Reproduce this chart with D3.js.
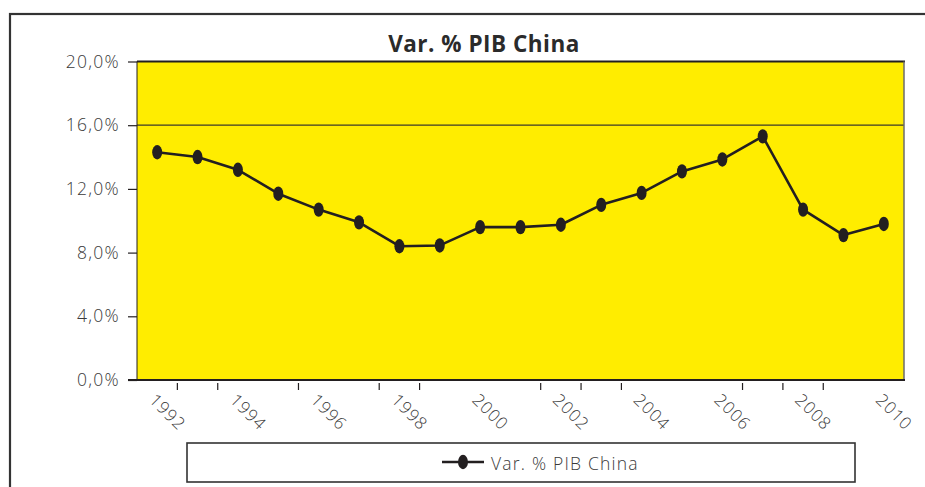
<!DOCTYPE html>
<html>
<head>
<meta charset="utf-8">
<script src="https://cdn.jsdelivr.net/npm/d3@7"></script>
<style>
  html, body { margin: 0; padding: 0; background: #fff; }
  svg { display: block; }
  text { font-family: "Open Sans", Lato, sans-serif; fill: #3a3a3a; }
</style>
</head>
<body>
<svg id="chart" width="925" height="487"></svg>
<script>
// Annual GDP growth of China, 1992-2010 (%)
const years = [1992, 1993, 1994, 1995, 1996, 1997, 1998, 1999, 2000, 2001,
               2002, 2003, 2004, 2005, 2006, 2007, 2008, 2009, 2010];
const gdpGrowth = [14.3, 14.0, 13.2, 11.7, 10.7, 9.9, 8.4, 8.45, 9.6, 9.6,
                   9.75, 11.0, 11.75, 13.1, 13.85, 15.3, 10.7, 9.1, 9.8];
const yTicks = [0, 4, 8, 12, 16, 20];
const gridValues = [16];
const xLabels = [1992, 1994, 1996, 1998, 2000, 2002, 2004, 2006, 2008, 2010];
// category boundaries that carry a tick mark (left edge of these years)
const tickEdgeYears = [1993, 1994, 1996, 1998, 1999, 2002, 2003, 2004, 2007, 2008, 2009];
const seriesName = "Var. % PIB China";

const svg = d3.select("#chart");
const ink = "#231f20";
const labelFont = "'Open Sans', Lato, sans-serif";

const plot = { left: 137, right: 904, top: 61.5, bottom: 380 };

const xBand = d3.scaleBand().domain(years).range([plot.left, plot.right]).paddingInner(0).paddingOuter(0);
const x = d => xBand(d) + xBand.bandwidth() / 2;
const y = d3.scaleLinear().domain([0, 20]).range([plot.bottom, plot.top]);

// outer frame
svg.append("rect")
  .attr("x", 10).attr("y", 14).attr("width", 1000).attr("height", 600)
  .attr("fill", "none").attr("stroke", "#333").attr("stroke-width", 2.2);

// title
svg.append("text")
  .attr("x", 484).attr("y", 51.5)
  .attr("text-anchor", "middle")
  .style("font-size", "22.5px").style("font-weight", 700).style("fill", "#2b2b2b")
  .style("letter-spacing", "0.5px")
  .text(seriesName);

// plot background
svg.append("rect")
  .attr("x", plot.left).attr("y", plot.top)
  .attr("width", plot.right - plot.left).attr("height", plot.bottom - plot.top)
  .attr("fill", "#ffed00");

// gridline(s)
svg.selectAll(".grid").data(gridValues).enter().append("line")
  .attr("x1", plot.left).attr("x2", plot.right)
  .attr("y1", d => y(d)).attr("y2", d => y(d))
  .attr("stroke", "#3a3a2a").attr("stroke-width", 1.2);

// plot borders
svg.append("line").attr("x1", plot.left).attr("x2", plot.right + 1)
  .attr("y1", plot.top).attr("y2", plot.top).attr("stroke", ink).attr("stroke-width", 2);
svg.append("line").attr("x1", plot.right).attr("x2", plot.right)
  .attr("y1", plot.top).attr("y2", plot.bottom).attr("stroke", "#6b6b6b").attr("stroke-width", 1.5);
svg.append("line").attr("x1", plot.left).attr("x2", plot.left)
  .attr("y1", plot.top).attr("y2", plot.bottom).attr("stroke", ink).attr("stroke-width", 1);
svg.append("line").attr("x1", plot.left - 9).attr("x2", plot.right + 1)
  .attr("y1", plot.bottom).attr("y2", plot.bottom).attr("stroke", ink).attr("stroke-width", 2);

// y axis
const yAxis = d3.axisLeft(y).tickValues(yTicks).tickSize(9).tickPadding(8)
  .tickFormat(d => d.toFixed(1).replace(".", ",") + "%");
const gy = svg.append("g").attr("transform", `translate(${plot.left},0)`).call(yAxis);
gy.select(".domain").remove();
gy.selectAll(".tick line").attr("stroke", ink).attr("stroke-width", 1.2);
gy.selectAll(".tick text")
  .style("font-size", "17.5px").style("font-weight", 300)
  .style("letter-spacing", "1.3px")
  .style("font-family", labelFont).attr("fill", "#3a3a3a");

// x tick marks on selected category boundaries
svg.selectAll(".xtick").data(tickEdgeYears).enter().append("line")
  .attr("x1", d => xBand(d)).attr("x2", d => xBand(d))
  .attr("y1", plot.bottom + 3).attr("y2", plot.bottom + 10)
  .attr("stroke", ink).attr("stroke-width", 1.2);

// x labels, rotated
svg.selectAll(".xlabel").data(xLabels).enter().append("text")
  .attr("transform", d => `translate(${x(d) - 9},${plot.bottom + 21}) rotate(45)`)
  .style("font-size", "17px").style("font-weight", 300)
  .style("letter-spacing", "1px")
  .text(d => d);

// series line
const line = d3.line().x((d, i) => x(years[i])).y(d => y(d));
svg.append("path").datum(gdpGrowth)
  .attr("d", line).attr("fill", "none")
  .attr("stroke", ink).attr("stroke-width", 2.6).attr("stroke-linejoin", "round");

svg.selectAll(".pt").data(gdpGrowth).enter().append("ellipse")
  .attr("cx", (d, i) => x(years[i])).attr("cy", d => y(d))
  .attr("rx", 5).attr("ry", 7.2).attr("fill", ink);

// legend
const lg = svg.append("g");
lg.append("rect").attr("x", 187).attr("y", 443).attr("width", 668).attr("height", 39)
  .attr("fill", "#fff").attr("stroke", "#333").attr("stroke-width", 1.6);
lg.append("line").attr("x1", 442).attr("x2", 484).attr("y1", 462).attr("y2", 462)
  .attr("stroke", ink).attr("stroke-width", 2.6);
lg.append("ellipse").attr("cx", 463).attr("cy", 462).attr("rx", 5).attr("ry", 7.2).attr("fill", ink);
lg.append("text").attr("x", 491).attr("y", 469.5)
  .style("font-size", "17.5px").style("font-weight", 300)
  .style("letter-spacing", "1.2px")
  .text(seriesName);
</script>
</body>
</html>
